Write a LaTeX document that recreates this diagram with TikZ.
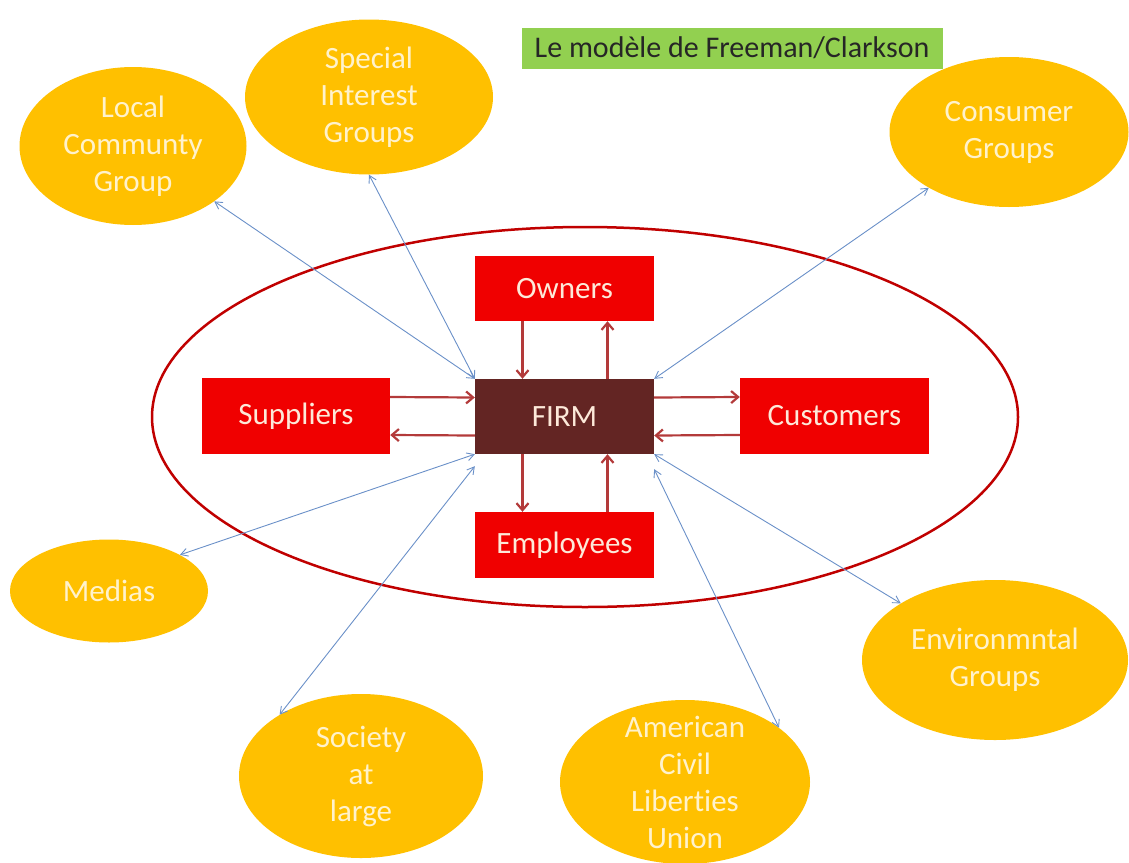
\documentclass[tikz,border=0pt]{standalone}
\usepackage{fontspec}
\setmainfont[Ligatures=NoCommon]{Carlito}
\usetikzlibrary{arrows.meta,positioning,shapes.geometric}
\definecolor{cGold}{HTML}{FFC000}
\definecolor{cGoldT}{HTML}{FFF2CC}
\definecolor{cRed}{HTML}{F00000}
\definecolor{cRedT}{HTML}{FDE9D9}
\definecolor{cFirm}{HTML}{632523}
\definecolor{cRing}{HTML}{C00000}
\definecolor{cArr}{HTML}{B33A3A}
\definecolor{cLink}{HTML}{6A90C8}
\definecolor{cTitle}{HTML}{92D050}

\begin{document}
\begin{tikzpicture}[
  x=1pt, y=-1pt,
  font=\fontsize{31}{37}\selectfont,
  % ── parties prenantes (ellipses or), entreprise (rouge) ──
  sh/.style={ellipse, fill=cGold, text=cGoldT, align=center, inner sep=0pt},
  bx/.style={rectangle, fill=cRed, text=cRedT, inner sep=0pt,
             minimum width=179pt, minimum height=66pt},
  fm/.style={bx, fill=cFirm, minimum height=75pt},
  ra/.style={-{Straight Barb[length=7pt,width=12pt]}, line width=2.2pt, cArr},
  la/.style={{Straight Barb[length=7pt,width=8pt]}-{Straight Barb[length=7pt,width=8pt]},
             line width=0.9pt, cLink},
]
\useasboundingbox (0,0) rectangle (1129,862);

% ── anneau rouge ─────────────────────────────────────────
\node[ellipse, draw=cRing, line width=2.5pt, inner sep=0pt,
      minimum width=866pt, minimum height=380pt] (ring) at (585,417) {};

% ── titre ────────────────────────────────────────────────
\node[fill=cTitle, text=black!85, inner sep=0pt, font=\fontsize{30}{36}\selectfont,
      minimum width=421pt, minimum height=41pt] (ttl) at (732,48)
  {Le modèle de Freeman/Clarkson};

% ── parties prenantes externes ───────────────────────────
\node[sh, minimum width=227pt, minimum height=158pt] (lcg) at (133,146)
  {Local\\Communty\\Group};
\node[sh, minimum width=248pt, minimum height=155pt] (sig) at (369,97)
  {Special\\Interest\\Groups};
\node[sh, minimum width=239pt, minimum height=150pt] (cgr) at (1009,132)
  {Consumer\\Groups};
\node[sh, minimum width=198pt, minimum height=103pt] (med) at (109,591)
  {Medias};
\node[sh, minimum width=244pt, minimum height=164pt] (soc) at (361,776)
  {Society\\at\\large};
\node[sh, minimum width=250pt, minimum height=164pt, inner ysep=-20pt] (acl) at (685,782)
  {American\\Civil\\Liberties\\Union};
\node[sh, minimum width=266pt, minimum height=160pt] (env) at (995,660)
  {Environmntal\\Groups};

% ── entreprise et parties internes ───────────────────────
\node[fm] (firm) at (564.5,416.5) {FIRM};
\node[bx, minimum height=65pt] (own) at (564.5,288.5) {Owners};
\node[bx] (emp) at (564.5,545) {Employees};
\node[bx, minimum width=188pt, minimum height=76pt] (sup) at (296,416) {Suppliers};
\node[bx, minimum width=189pt, minimum height=76pt] (cus) at (834.5,416) {Customers};

\draw[ra] ([xshift=-42pt]own.south) -- ([xshift=-42pt]firm.north);
\draw[ra] ([xshift=43pt]firm.north) -- ([xshift=43pt]own.south);
\draw[ra] ([xshift=-42pt]firm.south) -- ([xshift=-42pt]emp.north);
\draw[ra] ([xshift=43pt]emp.north) -- ([xshift=43pt]firm.south);
\draw[ra] ([yshift=19pt]sup.east) -- ([yshift=19pt]firm.west);
\draw[ra] ([yshift=-19pt]firm.west) -- ([yshift=-19pt]sup.east);
\draw[ra] ([yshift=19pt]firm.east) -- ([yshift=19pt]cus.west);
\draw[ra] ([yshift=-19pt]cus.west) -- ([yshift=-19pt]firm.east);

% ── liens externes (bleu, double fleche) ─────────────────
\draw[la] (lcg) -- (firm.north west);
\draw[la] (sig.south) -- (firm.north west);
\draw[la] (cgr) -- (firm.north east);
\draw[la] (med.27) -- (firm.south west);
\draw[la] (soc.143) -- ([yshift=-12pt]firm.south west);
\draw[la] (acl.30) -- ([yshift=-15pt]firm.south east);
\draw[la] (env.149) -- (firm.south east);
\end{tikzpicture}
\end{document}
